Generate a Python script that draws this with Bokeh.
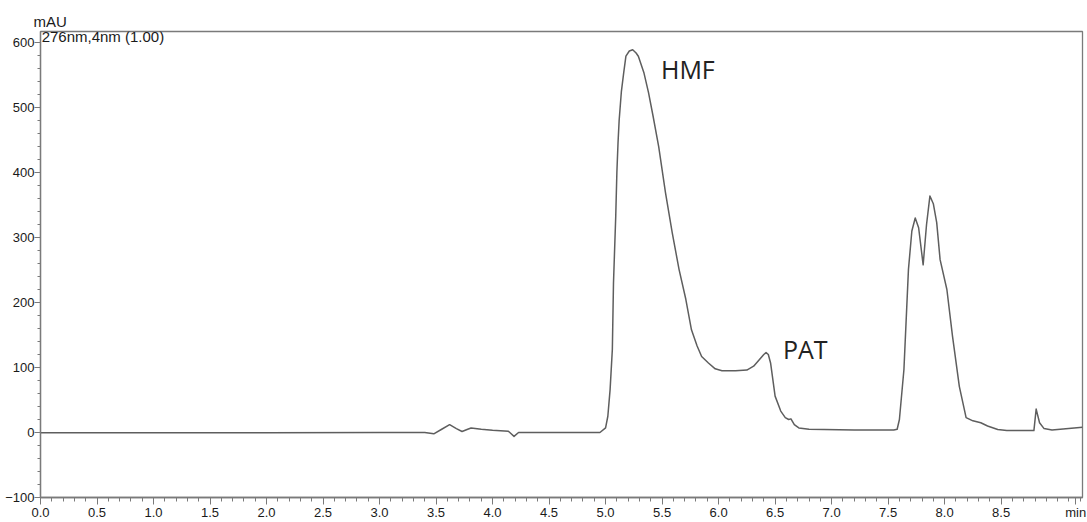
from bokeh.plotting import figure
from bokeh.models import Range1d, FixedTicker, NumeralTickFormatter, Label, Title
from bokeh.embed import file_html
from bokeh.resources import INLINE

# Chromatogram trace: retention time (min) and absorbance (mAU)
time_min = [0.0, 1.0, 2.0, 3.0, 3.40, 3.48, 3.55, 3.62, 3.68, 3.73, 3.78, 3.81,
            3.90, 4.00, 4.14, 4.19, 4.23, 4.50, 4.90, 4.95, 5.00, 5.02, 5.04,
            5.06, 5.07, 5.09, 5.10, 5.11, 5.12, 5.14, 5.16, 5.18, 5.21, 5.24,
            5.27, 5.29, 5.34, 5.38, 5.42, 5.47, 5.53, 5.59, 5.65, 5.71, 5.76,
            5.81, 5.85, 5.91, 5.97, 6.03, 6.15, 6.25, 6.31, 6.36, 6.40, 6.42,
            6.44, 6.46, 6.50, 6.55, 6.59, 6.62, 6.64, 6.67, 6.71, 6.80, 7.20,
            7.55, 7.58, 7.60, 7.64, 7.68, 7.71, 7.74, 7.77, 7.81, 7.84, 7.87,
            7.90, 7.93, 7.96, 8.02, 8.07, 8.13, 8.19, 8.25, 8.32, 8.38, 8.47,
            8.55, 8.64, 8.79, 8.81, 8.84, 8.88, 8.95, 9.22]
absorbance = [-0.5, -0.5, -0.5, 0, 0, -2, 5, 12, 6, 1.5, 5, 7,
              5, 3.5, 2, -6, 0, 0, 0, 0, 7, 25, 66,
              128, 230, 333, 400, 445, 480, 525, 553, 579, 587, 589,
              584, 579, 553, 523, 487, 440, 369, 307, 251, 205, 158,
              133, 117, 107, 98, 95, 95, 96, 102, 112, 120, 123,
              120, 107, 56, 33, 23, 20, 21, 12, 7, 5, 4,
              4, 5, 20, 97, 251, 310, 330, 315, 258, 320, 364,
              352, 323, 266, 220, 148, 71, 23, 18, 15, 10, 4.6,
              3, 3, 3, 36, 15, 6, 4, 8]

x_ticks = [0.0, 0.5, 1.0, 1.5, 2.0, 2.5, 3.0, 3.5, 4.0, 4.5, 5.0, 5.5, 6.0,
           6.5, 7.0, 7.5, 8.0, 8.5]
y_ticks = [-100, 0, 100, 200, 300, 400, 500, 600]
x_unit_pos = 9.16

# Peak annotations: (name, time, mAU)
peak_names = ["HMF", "PAT"]
peak_label_t = [5.49, 6.57]
peak_label_v = [560, 129]

AXIS_GREY = "#7a7a7a"
TRACE_GREY = "#5e5e5e"
TEXT = "#1a1a1a"
FONT = "Liberation Sans"

p = figure(width=1087, height=522, output_backend="svg", toolbar_location=None,
           x_range=Range1d(0, 9.22), y_range=Range1d(-100, 617),
           min_border_left=40, min_border_right=5, min_border_top=31,
           min_border_bottom=25)
p.background_fill_color = "white"
p.border_fill_color = "white"
p.outline_line_color = AXIS_GREY
p.outline_line_width = 1.3
p.xgrid.visible = False
p.ygrid.visible = False

p.line(time_min, absorbance, line_color=TRACE_GREY, line_width=1.5,
       line_join="round")

xa = p.xaxis[0]
xa.ticker = FixedTicker(ticks=x_ticks + [x_unit_pos],
                        minor_ticks=[round(i * 0.1, 1) for i in range(0, 93)])
xa.formatter = NumeralTickFormatter(format="0.0")
xa.major_label_overrides = {x_unit_pos: "min"}
ya = p.yaxis[0]
ya.ticker = FixedTicker(ticks=y_ticks, minor_ticks=list(range(-100, 620, 20)))

for ax in (xa, ya):
    ax.axis_line_color = AXIS_GREY
    ax.axis_line_width = 1.3
    ax.major_tick_line_color = AXIS_GREY
    ax.minor_tick_line_color = AXIS_GREY
    ax.major_tick_in = 0
    ax.minor_tick_in = 0
    ax.major_label_text_font = FONT
    ax.major_label_text_font_size = "13px"
    ax.major_label_text_color = TEXT

xa.major_tick_out = 7
xa.minor_tick_out = 4
xa.major_label_standoff = 0
ya.major_tick_out = 6
ya.minor_tick_out = 3
ya.major_label_standoff = 0

# Y unit above the axis
p.add_layout(Title(text="mAU", align="left", offset=-7, standoff=3,
                   text_font=FONT, text_font_size="15px",
                   text_font_style="normal", text_color=TEXT), "above")

# Detector header inside the plot
p.add_layout(Label(x=0.01, y=609, text="276nm,4nm (1.00)", text_font=FONT,
                   text_font_size="15px", text_color=TEXT,
                   text_baseline="alphabetic"))

for name, t, v in zip(peak_names, peak_label_t, peak_label_v):
    p.add_layout(Label(x=t, y=v, text=name, text_font="Open Sans",
                       text_font_size="25px", text_color="#222222",
                       text_baseline="alphabetic"))

open("out.html", "w").write(file_html(p, INLINE))
